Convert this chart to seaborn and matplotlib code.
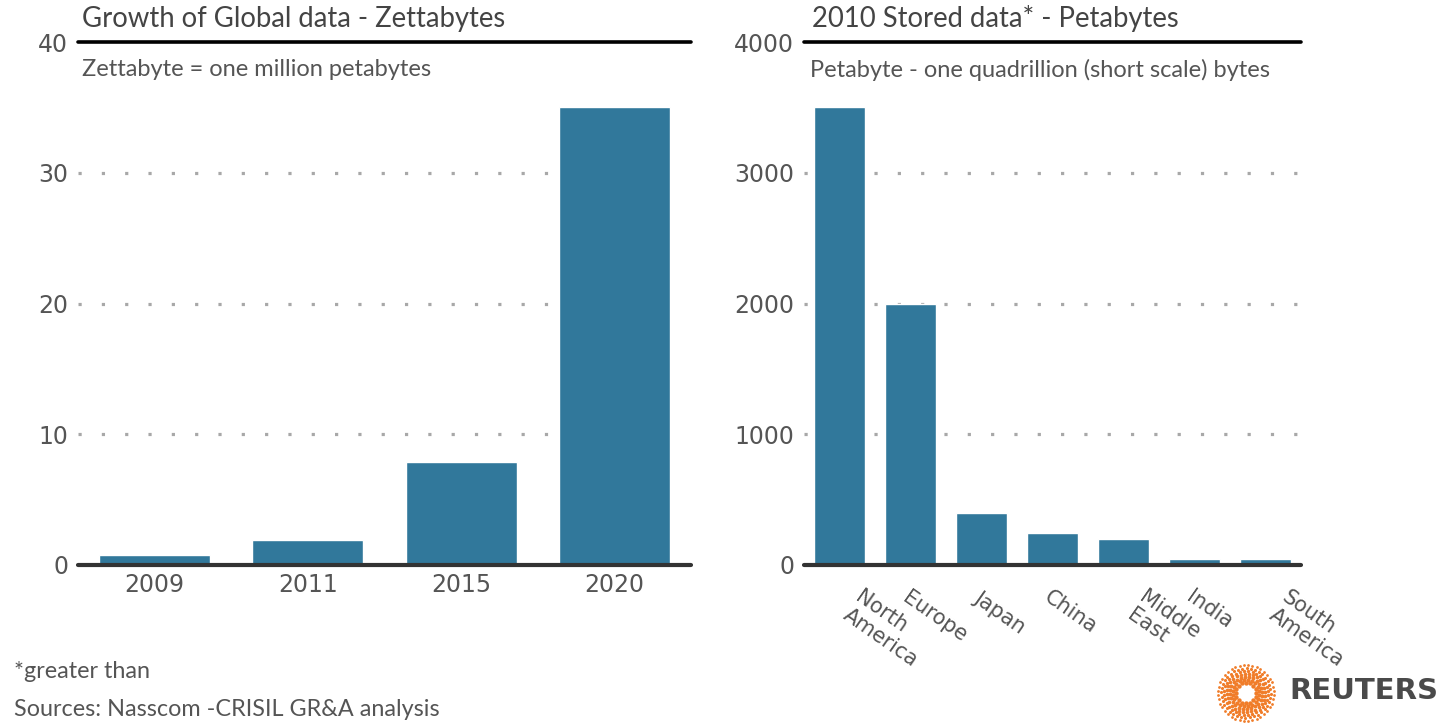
import matplotlib
matplotlib.use('Agg')
import matplotlib.pyplot as plt
import matplotlib.transforms as mtransforms
import seaborn as sns
import pandas as pd
import numpy as np

# ---- data ----
years = ['2009', '2011', '2015', '2020']
zettabytes = [0.8, 1.9, 7.9, 35]
left_ticks = [0, 10, 20, 30, 40]

regions = ['North\nAmerica', 'Europe', 'Japan', 'China', 'Middle\nEast', 'India', 'South\nAmerica']
petabytes = [3500, 2000, 400, 245, 200, 45, 45]
right_ticks = [0, 1000, 2000, 3000, 4000]

left_title = 'Growth of Global data - Zettabytes'
left_sub = 'Zettabyte = one million petabytes'
right_title = '2010 Stored data* - Petabytes'
right_sub = 'Petabyte - one quadrillion (short scale) bytes'
note = '*greater than'
source = 'Sources: Nasscom -CRISIL GR&A analysis'

sns.set_theme(style='white')
plt.rcParams['font.family'] = ['Lato', 'DejaVu Sans']

W, H = 1445, 723
fig = plt.figure(figsize=(W / 100, H / 100), dpi=100)
fig.patch.set_facecolor('white')

BAR = '#31789b'
GRAY = '#555555'
TICKFONT = 'DejaVu Sans'

ax1 = fig.add_axes([78 / W, 1 - 565 / H, (691 - 78) / W, 523 / H])
ax2 = fig.add_axes([804 / W, 1 - 565 / H, (1301 - 804) / W, 523 / H])

df1 = pd.DataFrame({'year': years, 'value': zettabytes})
df2 = pd.DataFrame({'region': regions, 'value': petabytes})

sns.barplot(data=df1, x='year', y='value', ax=ax1, color=BAR, saturation=1, width=0.725, zorder=2)
sns.barplot(data=df2, x='region', y='value', ax=ax2, color=BAR, saturation=1, width=0.72, zorder=2)

for ax, ticks, n, gx in [(ax1, left_ticks, len(years), 0.975), (ax2, right_ticks, len(regions), 1.0)]:
    ax.set_xlim(-0.5, n - 0.5)
    ax.set_ylim(ticks[0], ticks[-1])
    ax.set_yticks(ticks)
    ax.set_yticklabels([str(t) for t in ticks], fontfamily=TICKFONT)
    ax.set_xlabel('')
    ax.set_ylabel('')
    for s in ax.spines.values():
        s.set_visible(False)
    for t in ticks[1:-1]:
        ax.axhline(t, xmax=gx, color='#a8a8a8', lw=2.3, linestyle=(0, (1, 6.3)), zorder=1)
    ax.axhline(ticks[-1], color='black', lw=2.6, zorder=3, clip_on=False)
    ax.axhline(ticks[0], color='#333333', lw=3, zorder=3, clip_on=False)
    ax.tick_params(axis='y', length=0, pad=7, labelsize=17, labelcolor=GRAY)
    ax.tick_params(axis='x', length=0, labelsize=17, labelcolor=GRAY)

ax1.set_xticks(range(len(years)))
ax1.set_xticklabels(years, fontfamily=TICKFONT)
ax1.tick_params(axis='x', pad=6)

ax2.tick_params(axis='x', pad=16)
ax2.set_xticks(range(len(regions)))
ax2.set_xticklabels(regions, rotation=-35, ha='left', va='top', fontfamily=TICKFONT,
                    fontsize=15, rotation_mode='anchor', multialignment='left',
                    linespacing=1.1)
shift = mtransforms.ScaledTranslation(24 / 100, 0, fig.dpi_scale_trans)
for lab in ax2.get_xticklabels():
    if '\n' in lab.get_text():
        lab.set_transform(lab.get_transform() + shift)

# titles
fig.text(82 / W, 1 - 19 / H, left_title, fontsize=19.8, color='#444444', va='center', ha='left')
fig.text(812 / W, 1 - 19 / H, right_title, fontsize=19.8, color='#444444', va='center', ha='left')
fig.text(82 / W, 1 - 70 / H, left_sub, fontsize=17, color=GRAY, va='center', ha='left')
fig.text(810 / W, 1 - 70 / H, right_sub, fontsize=17, color=GRAY, va='center', ha='left')

# footer
fig.text(14 / W, 1 - 672 / H, note, fontsize=16.8, color=GRAY, va='center', ha='left')
fig.text(14 / W, 1 - 709 / H, source, fontsize=16.8, color=GRAY, va='center', ha='left')

# Reuters logo
fig.text(1289 / W, 1 - 691 / H, 'REUTERS', fontsize=21, fontweight='bold', color='#4a4a4a',
         va='center', ha='left', fontfamily='DejaVu Sans')
lax = fig.add_axes([1217 / W, 1 - 722 / H, 58 / W, 58 / H])
lax.set_xlim(-1.05, 1.05)
lax.set_ylim(-1.05, 1.05)
lax.set_aspect('equal')
lax.axis('off')
for k, r in enumerate(np.linspace(0.38, 1.0, 7)):
    ang = np.linspace(0, 2 * np.pi, 16 + 4 * k, endpoint=False) + k * 0.17
    lax.scatter(r * np.cos(ang), r * np.sin(ang), s=10 - k, color='#f07d2a', lw=0)

fig.savefig('out.png', dpi=100, facecolor='white')
